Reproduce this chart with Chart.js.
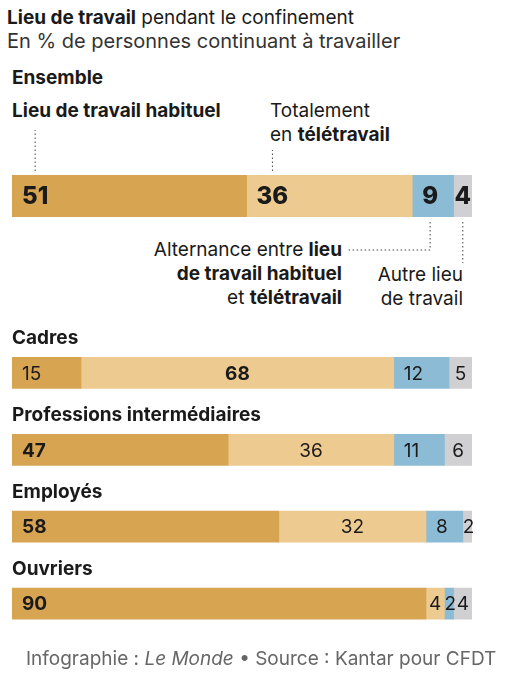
<!DOCTYPE html>
<html>
<head>
<meta charset="utf-8">
<script src="https://cdn.jsdelivr.net/npm/chart.js@4.4.1/dist/chart.umd.min.js"></script>
<style>
  body { margin: 0; width: 525px; height: 688px; background: #fff; position: relative; overflow: hidden;
         font-family: Inter, Roboto, sans-serif; color: #1a1a1a; }
  .t { position: absolute; white-space: nowrap; }
  b { font-weight: 700; }
  canvas { position: absolute; left: 0; }
</style>
</head>
<body>
<div class="t" style="left:7px;top:6px;font-size:19px;line-height:24px;"><b>Lieu de travail</b> pendant le confinement</div>
<div class="t" style="left:7px;top:29px;font-size:20px;line-height:24px;color:#333;">En % de personnes continuant à travailler</div>
<div class="t" style="left:12px;top:66px;font-size:19px;line-height:24px;"><b>Ensemble</b></div>

<div class="t" style="left:12px;top:99px;font-size:19px;line-height:24px;"><b>Lieu de travail habituel</b></div>
<div class="t" style="left:270px;top:99px;font-size:19px;line-height:24px;">Totalement<br>en <b>télétravail</b></div>
<div class="t" style="right:183px;top:238px;font-size:19px;line-height:24px;text-align:right;">Alternance entre <b>lieu</b><br><b>de travail habituel</b><br>et <b>télétravail</b></div>
<div class="t" style="right:62px;top:263px;font-size:19px;line-height:23.5px;text-align:right;">Autre lieu<br>de travail</div>

<canvas id="ensembleChart" width="525" height="170" style="top:100px;"></canvas>
<canvas id="groupChart" width="525" height="330" style="top:320px;"></canvas>

<div class="t" style="left:26px;top:647px;font-size:19px;line-height:24px;color:#666;">Infographie : <i>Le Monde</i> • Source : Kantar pour CFDT</div>

<script>
// données
const series = ['Lieu de travail habituel', 'Totalement en télétravail', 'Alternance', 'Autre lieu de travail'];
const colors = ['#d7a452', '#ecca90', '#8cbbd5', '#d0d0d3'];

const ensembleLabel = ['Ensemble'];
const ensemble = [51, 36, 9, 4];

const groups = ['Cadres', 'Professions intermédiaires', 'Employés', 'Ouvriers'];
const habituel = [15, 47, 58, 90];
const teletravail = [68, 36, 32, 4];
const alternance = [12, 11, 8, 2];
const autre = [5, 6, 2, 4];

// étiquettes dans les barres
const barLabels = {
  id: 'barLabels',
  afterDatasetsDraw(chart, args, opts) {
    const ctx = chart.ctx;
    const n = chart.data.labels.length;
    ctx.save();
    ctx.textBaseline = 'middle';
    for (let i = 0; i < n; i++) {
      const vals = chart.data.datasets.map(d => d.data[i]);
      const maxV = Math.max(...vals);
      chart.data.datasets.forEach((ds, di) => {
        const bar = chart.getDatasetMeta(di).data[i];
        const v = ds.data[i];
        const bold = opts.allBold || v === maxV;
        ctx.font = (bold ? opts.boldWeight + ' ' : '400 ') + opts.size + 'px Inter';
        ctx.fillStyle = '#1a1a1a';
        const tw = ctx.measureText(String(v)).width;
        const x0 = bar.base, w = bar.x - bar.base;
        let x;
        if (di === 0) x = x0 + 10;
        else if (di === 1 && !opts.allBold) x = x0 + (w - tw) / 2;
        else x = x0 + Math.max(0, Math.min(10, (w - tw) / 2));
        ctx.fillText(String(v), x, bar.y + 1);
        if (opts.leaders) {
          const cx = x + tw / 2;
          const top = bar.y - bar.height / 2;
          const bot = bar.y + bar.height / 2;
          ctx.strokeStyle = '#444';
          ctx.lineWidth = 1;
          ctx.setLineDash([1.5, 2.5]);
          ctx.beginPath();
          if (di === 0) { ctx.moveTo(cx, top - 4); ctx.lineTo(cx, top - 45); }
          if (di === 1) { ctx.moveTo(cx, top - 4); ctx.lineTo(cx, top - 25); }
          if (di === 2) { ctx.moveTo(cx, bot + 5); ctx.lineTo(cx, bot + 33); ctx.lineTo(cx - 82, bot + 33); }
          if (di === 3) { ctx.moveTo(cx, bot + 5); ctx.lineTo(cx, bot + 46); }
          ctx.stroke();
          ctx.setLineDash([]);
        }
      });
    }
    ctx.restore();
  }
};

// noms de catégories au-dessus des barres
const groupNames = {
  id: 'groupNames',
  afterDatasetsDraw(chart, args, opts) {
    if (!opts.show) return;
    const ctx = chart.ctx;
    const meta = chart.getDatasetMeta(0);
    ctx.save();
    ctx.font = '700 19px Inter';
    ctx.fillStyle = '#1a1a1a';
    ctx.textBaseline = 'alphabetic';
    chart.data.labels.forEach((lab, i) => {
      const bar = meta.data[i];
      ctx.fillText(lab, 12, bar.y - bar.height / 2 - 13);
    });
    ctx.restore();
  }
};

function baseOptions(pad) {
  return {
    indexAxis: 'y',
    responsive: false,
    animation: false,
    layout: { padding: pad },
    scales: {
      x: { stacked: true, min: 0, max: 100, display: false },
      y: { stacked: true, display: false }
    },
    plugins: { legend: { display: false }, tooltip: { enabled: false } }
  };
}

const opt1 = baseOptions({ top: 75, bottom: 53, left: 12, right: 53 });
opt1.plugins.barLabels = { size: 24, allBold: true, boldWeight: 800, leaders: true };
new Chart(document.getElementById('ensembleChart').getContext('2d'), {
  type: 'bar',
  data: {
    labels: ensembleLabel,
    datasets: ensemble.map((v, k) => ({
      label: series[k], data: [v], backgroundColor: colors[k],
      borderWidth: 0, barPercentage: 1, categoryPercentage: 1
    }))
  },
  options: opt1,
  plugins: [barLabels]
});

const opt2 = baseOptions({ top: 14.5, bottom: 8, left: 12, right: 53 });
opt2.plugins.barLabels = { size: 19, allBold: false, boldWeight: 700, leaders: false };
opt2.plugins.groupNames = { show: true };
new Chart(document.getElementById('groupChart').getContext('2d'), {
  type: 'bar',
  data: {
    labels: groups,
    datasets: [habituel, teletravail, alternance, autre].map((d, k) => ({
      label: series[k], data: d, backgroundColor: colors[k],
      borderWidth: 0, barThickness: 31
    }))
  },
  options: opt2,
  plugins: [barLabels, groupNames]
});
</script>
</body>
</html>
